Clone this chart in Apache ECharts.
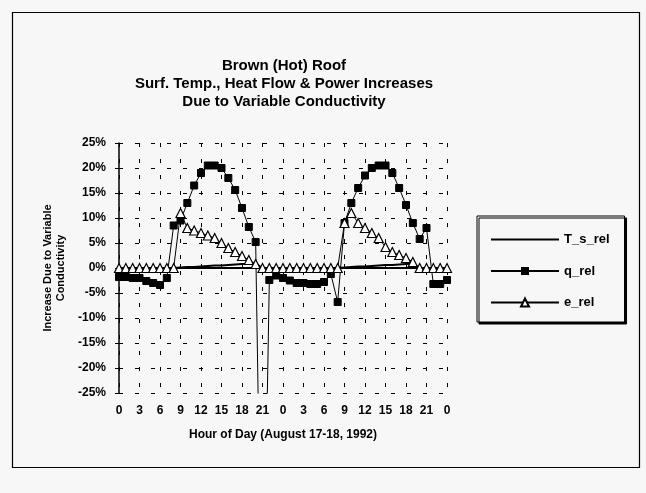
<!DOCTYPE html>
<html>
<head>
<meta charset="utf-8">
<script src="https://cdn.jsdelivr.net/npm/echarts@6/dist/echarts.min.js"></script>
<style>
html,body{margin:0;padding:0;background:#f7f7f7;}
#c{width:646px;height:493px;}
</style>
</head>
<body>
<div id="c"></div>
<script>
// Hour-of-day categories (August 17-18, 1992), hourly 0..48
const hours = [0,1,2,3,4,5,6,7,8,9,10,11,12,13,14,15,16,17,18,19,20,21,22,23,
               0,1,2,3,4,5,6,7,8,9,10,11,12,13,14,15,16,17,18,19,20,21,22,23,0];

// Surface temperature relative increase (%)
const tsRel = [0,0,0,0,0,0,0,0,0,0.1,0.2,0.2,0.3,0.4,0.5,0.5,0.6,0.7,0.8,0.8,0.9,0,
               0,0,0,0,0,0,0,0,0,0,0,0.1,0.2,0.3,0.3,0.4,0.5,0.6,0.6,0.7,0.8,0.9,0,
               0,0,0,0];

// Heat flow relative increase (%)
const qRel = [-1.8,-1.8,-2.0,-2.0,-2.6,-3.0,-3.4,-2.0,8.5,9.5,13,16.5,19,20.5,20.5,20,18,15.6,12,8.2,5.2,-80,
              -2.4,-1.5,-2.0,-2.5,-3.0,-3.0,-3.2,-3.2,-2.8,-1.2,-6.8,9,13,16,18.5,20,20.5,20.5,19,16,12.6,9,5.8,8,
              -3.2,-3.2,-2.4];

// Power relative increase (%)
const eRel = [0,0,0,0,0,0,0,0,0,11,8,7.5,7,6.5,6,5,4,3.2,2.4,1.6,0.8,
              0,0,0,0,0,0,0,0,0,0,0,0,9,11,9,8,7,6,4.2,3.2,2.6,2,1.2,
              0,0,0,0,0];

const seriesNames = ['T_s_rel','q_rel','e_rel'];
const titleLines = ['Brown (Hot) Roof','Surf. Temp., Heat Flow & Power Increases','Due to Variable Conductivity'];
const xTitle = 'Hour of Day (August 17-18, 1992)';
const yTitle = 'Increase Due to Variable\nConductivity';

const FONT = 'Liberation Sans, Arial, sans-serif';
const chart = echarts.init(document.getElementById('c'), null, {renderer:'canvas'});

const gridDash = {color:'#000', width:1, type:[4,12]};

chart.setOption({
  backgroundColor:'#f7f7f7',
  animation:false,
  title:{
    text: titleLines.join('\n'),
    left: 279, top: 52, textAlign:'center',
    textStyle:{fontFamily:FONT, fontWeight:'bold', fontSize:15, lineHeight:18, color:'#000'}
  },
  graphic:[
    {type:'rect', shape:{x:12.5,y:12.5,width:627,height:455}, style:{fill:'none', stroke:'#000', lineWidth:1.2}, silent:true, z:-1}
  ],
  legend:{
    orient:'vertical',
    left:477, top:216,
    itemWidth:68, itemHeight:10, itemGap:18.5,
    padding:[17,15,13,13],
    borderColor:'#000', borderWidth:1,
    backgroundColor:'#f7f7f7',
    shadowColor:'#000', shadowOffsetX:2, shadowOffsetY:2, shadowBlur:0,
    textStyle:{fontFamily:FONT, fontWeight:'bold', fontSize:13, color:'#000'},
    data:seriesNames
  },
  grid:{left:119, right:199, top:143, bottom:100, containLabel:false},
  xAxis:{
    type:'category',
    data:hours,
    boundaryGap:false,
    name:xTitle,
    nameLocation:'middle',
    nameGap:36,
    nameTextStyle:{fontFamily:FONT, fontWeight:'bold', fontSize:12, color:'#000'},
    axisLine:{lineStyle:{color:'#000', width:2}},
    axisTick:{show:true, interval:2, length:4, inside:true, lineStyle:{color:'#000'}},
    axisLabel:{interval:2, fontFamily:FONT, fontWeight:'bold', fontSize:12, color:'#000', margin:12},
    splitLine:{show:true, interval:2, lineStyle:gridDash}
  },
  yAxis:{
    type:'value',
    min:-25, max:25, interval:5,
    name:yTitle,
    nameLocation:'middle',
    nameRotate:90,
    nameGap:48,
    nameTextStyle:{fontFamily:FONT, fontWeight:'bold', fontSize:11, lineHeight:13, color:'#000'},
    axisLine:{show:true, lineStyle:{color:'#000', width:1.5}},
    axisTick:{show:true, length:4, lineStyle:{color:'#000'}},
    axisLabel:{formatter:'{value}%', fontFamily:FONT, fontWeight:'bold', fontSize:12, color:'#000', margin:13},
    splitLine:{show:true, lineStyle:gridDash}
  },
  series:[
    {name:seriesNames[0], type:'line', data:tsRel, symbol:'none', clip:true,
     lineStyle:{color:'#000', width:2}, itemStyle:{color:'rgba(0,0,0,0)'}, z:3},
    {name:seriesNames[1], type:'line', data:qRel, symbol:'rect', symbolSize:7, showAllSymbol:true, clip:true,
     lineStyle:{color:'#000', width:1}, itemStyle:{color:'#000', borderColor:'#000'}, z:4},
    {name:seriesNames[2], type:'line', data:eRel, symbol:'triangle', symbolSize:9, showAllSymbol:true, clip:true,
     lineStyle:{color:'#000', width:1}, itemStyle:{color:'#fff', borderColor:'#000', borderWidth:1.2}, z:5}
  ]
});
</script>
</body>
</html>
